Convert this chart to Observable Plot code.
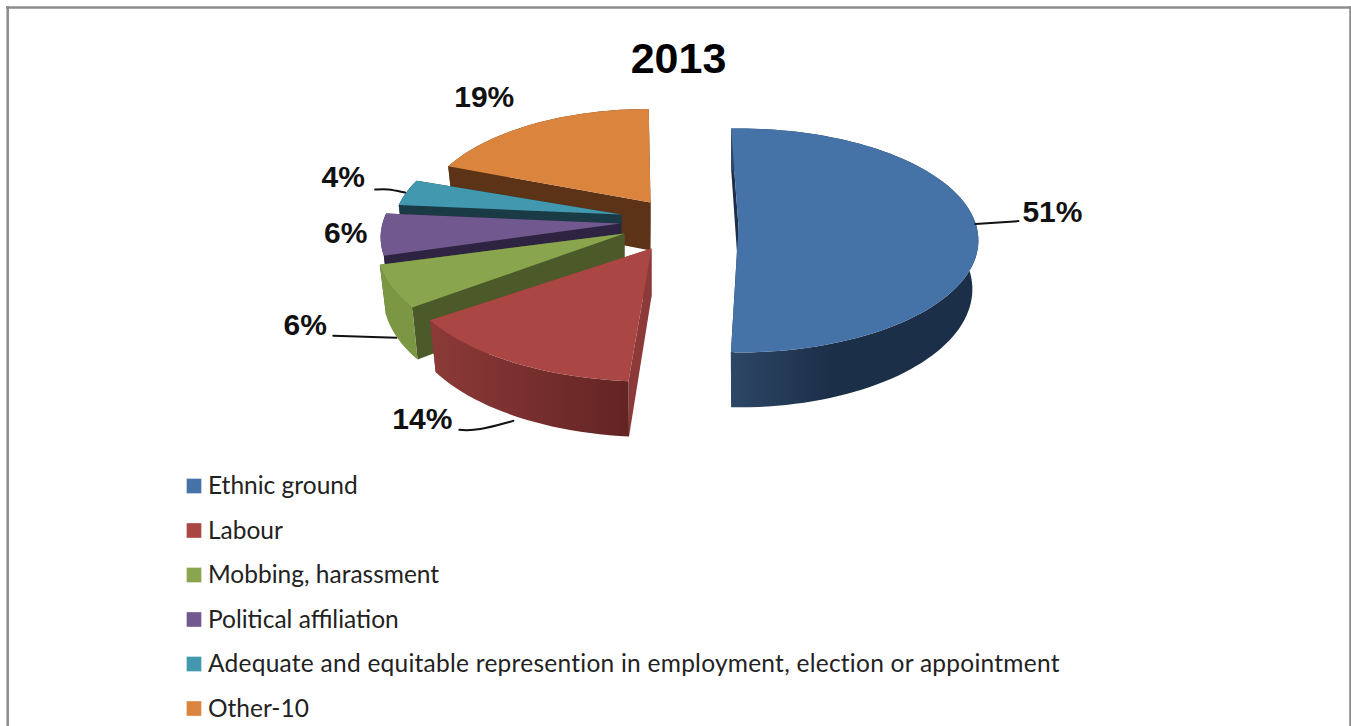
<!DOCTYPE html>
<html>
<head>
<meta charset="utf-8">
<script src="https://cdn.jsdelivr.net/npm/d3@7"></script>
<script src="https://cdn.jsdelivr.net/npm/@observablehq/plot@0.6"></script>
<style>
  html, body { margin: 0; padding: 0; background: #fff; overflow: hidden; }
  svg { display: block; }
</style>
</head>
<body>
<div id="chart"></div>
<script>
// Shares of complaints in 2013, by ground
const title = "2013";
const categories = [
  "Ethnic ground",
  "Labour",
  "Mobbing, harassment",
  "Political affiliation",
  "Adequate and equitable represention in employment, election or appointment",
  "Other-10"
];
const shares = [51, 14, 6, 6, 4, 19];

// Office palette: top faces and the darker side walls
const topColors = ["#4572a7", "#aa4643", "#89a54e", "#71588f", "#4198af", "#db843d"];
const innerColors = ["#1c2f49", "#8c3a39", "#4b5a28", "#2e2340", "#1a3a46", "#5c3317"];
const wallColors = ["url(#wall-blue)", "url(#wall-red)", "#7b9743", "#2e2340", "#1a3a46", "#5c3317"];

// Exploded layout of each wedge: tip, radius factor and small turn in degrees
const tipX = [738, 651, 624, 620, 621, 650];
const tipY = [226, 248, 233, 223, 214, 202];
const reach = [1, 1.05, 1.03, 1, 0.95, 0.95];
const turn = [0, 3, 1, 0, 0, 1.5];

// Data labels and leader lines, placed relative to each wedge's rim midpoint
const labelDx = [76, -89, -86, -35, -63, -49];
const labelDy = [-14, 58, 39, -1, -15, -27];
const leaders = [
  [[-1, -2], [42, -5]],
  [[2, 59], [-34, 69], [-52, 68]],
  [[5, 51], [-58, 49]],
  null,
  [[-1, 0], [-19, -4], [-31, -3]],
  null
];

// Tilted-disc projection: near parts of the rim are drawn larger, the
// underside of the disc sits a little farther away and so a little narrower
const radiusX = 238, radiusY = 110.25, near = 0.125, thickness = 48, startAngle = -2, undersideScale = 0.975;
const W = 1351, H = 726;

const project = (i, angle, drop = 0) => {
  const a = angle * Math.PI / 180;
  const X = Math.sin(a) * reach[i], Y = -Math.cos(a) * reach[i];
  const w = 1 - near * Y;
  return {
    x: tipX[i] + radiusX * X / w * (drop ? undersideScale : 1),
    y: tipY[i] + radiusY * Y / w + drop / w
  };
};

let running = startAngle;
const wedges = shares.map((v, i) => {
  const a0 = running + turn[i];
  running += v * 3.6;
  return { i, a0, a1: a0 + v * 3.6, mid: a0 + v * 1.8 };
});

const rim = (w, drop = 0) => {
  const steps = Math.max(8, Math.round((w.a1 - w.a0) / 2));
  return d3.range(steps + 1).map(k => project(w.i, w.a0 + (w.a1 - w.a0) * k / steps, drop));
};
const tip = (i, drop = 0) => ({ x: tipX[i], y: tipY[i] + drop });

const poly = (points, fill) =>
  Plot.line(points, { x: "x", y: "y", fill, stroke: "none", curve: "linear-closed" });

// Back-to-front drawing order of the wedges
const drawOrder = [5, 4, 3, 2, 1, 0];

const wedgeMarks = drawOrder.flatMap(i => {
  const w = wedges[i];
  const top = rim(w), bottom = rim(w, thickness);
  return [
    poly([tip(i), top[0], bottom[0], tip(i, thickness)], innerColors[i]),
    poly([tip(i), top[top.length - 1], bottom[bottom.length - 1], tip(i, thickness)], innerColors[i]),
    poly([...top, ...bottom.slice().reverse()], wallColors[i]),
    poly([tip(i), ...top], topColors[i])
  ];
});

const anchors = wedges.map(w => project(w.i, w.mid));

const labels = shares.map((v, i) => ({
  text: `${v}%`,
  x: anchors[i].x + labelDx[i],
  y: anchors[i].y + labelDy[i]
}));

const leaderMarks = leaders.flatMap((path, i) => path
  ? [Plot.line(path.map(([dx, dy]) => ({ x: anchors[i].x + dx, y: anchors[i].y + dy })),
      { x: "x", y: "y", stroke: "#111", strokeWidth: 2, curve: "basis" })]
  : []);

// Legend rows stacked under the pie
const legendRows = categories.map((name, i) => ({
  name, color: topColors[i], y: 485.5 + i * 44.5
}));

const chart = Plot.plot({
  width: W,
  height: H,
  margin: 0,
  x: { domain: [0, W], range: [0, W], axis: null },
  y: { domain: [0, H], range: [0, H], axis: null },
  style: { background: "#fff" },
  marks: [
    // Outer frame, open at the bottom
    Plot.ruleY([7], { x1: 6, x2: W, stroke: "#8c8c8c", strokeWidth: 2.5 }),
    Plot.ruleX([7.2], { y1: 6, y2: H, stroke: "#8c8c8c", strokeWidth: 2.5 }),
    Plot.ruleX([1350], { y1: 6, y2: H, stroke: "#8c8c8c", strokeWidth: 2.5 }),

    ...wedgeMarks,
    ...leaderMarks,

    Plot.text(labels, {
      x: "x", y: "y", text: "text",
      fontFamily: "Liberation Sans", fontWeight: 700, fontSize: 30, fill: "#111",
      textAnchor: "middle", lineAnchor: "middle"
    }),
    Plot.text([title], {
      x: [678], y: [59], text: d => d,
      fontFamily: "Liberation Sans", fontWeight: 700, fontSize: 43, fill: "#000",
      textAnchor: "middle", lineAnchor: "middle"
    }),

    Plot.dot(legendRows, {
      x: () => 193.5, y: "y", symbol: "square", r: 8.4,
      fill: "color", stroke: "#fff", strokeOpacity: 0.25, strokeWidth: 1
    }),
    Plot.text(legendRows, {
      x: () => 207.5, y: d => d.y + 0.5, text: "name",
      fontFamily: "Lato", fontSize: 24.5, fill: "#222",
      textAnchor: "start", lineAnchor: "middle"
    })
  ],
  color: { type: "identity" }
});

// Shaded side walls of the two front wedges
const defs = d3.create("svg:defs");
const gradient = (id, stops) => {
  const g = defs.append("linearGradient").attr("id", id);
  stops.forEach(([offset, color]) => g.append("stop").attr("offset", offset).attr("stop-color", color));
};
gradient("wall-blue", [[0, "#2d4766"], [0.4, "#1c2f49"], [1, "#1c2f49"]]);
gradient("wall-red", [[0, "#8c3a38"], [1, "#622423"]]);
chart.insertBefore(defs.node(), chart.firstChild);

// The longest legend entry runs slightly looser than the others
d3.select(chart).selectAll("text")
  .filter(function () { return this.textContent === categories[4]; })
  .style("letter-spacing", "0.25px");

document.getElementById("chart").append(chart);
</script>
</body>
</html>
